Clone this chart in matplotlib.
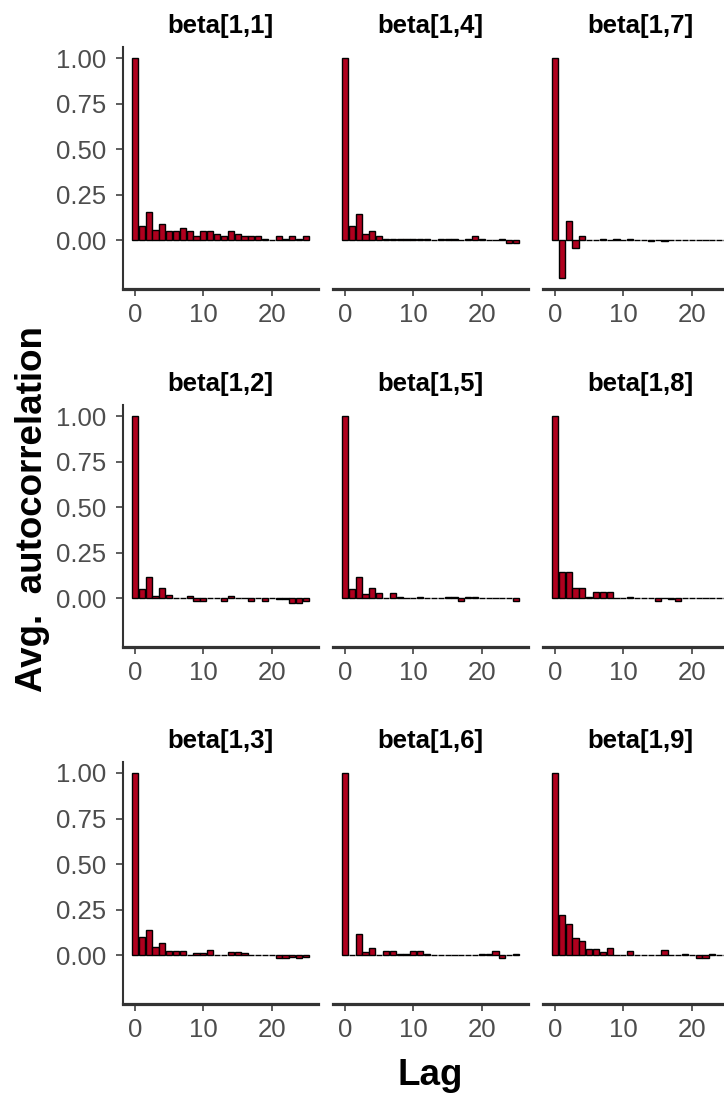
import numpy as np
import matplotlib
matplotlib.use("Agg")
import matplotlib.pyplot as plt

plt.rcParams['font.family'] = ['Liberation Sans', 'DejaVu Sans']

# Average autocorrelation by lag for each parameter
lags = np.arange(26)
acf = {
    "beta[1,1]": [1.0, 0.077, 0.155, 0.058, 0.09, 0.05, 0.05, 0.066, 0.05, 0.022, 0.05, 0.05, 0.036,
                  0.022, 0.05, 0.036, 0.022, 0.022, 0.022, 0.008, 0.0, 0.022, 0.008, 0.025, 0.008, 0.025],
    "beta[1,2]": [1.0, 0.052, 0.12, 0.015, 0.057, 0.018, 0.005, 0.0, 0.012, -0.012, -0.012, 0.0, 0.0,
                  -0.012, 0.012, 0.0, 0.0, -0.012, 0.0, -0.012, 0.0, -0.005, -0.005, -0.025, -0.025, -0.012],
    "beta[1,3]": [1.0, 0.10, 0.139, 0.046, 0.066, 0.024, 0.024, 0.024, 0.002, 0.015, 0.015, 0.027, 0.002,
                  0.002, 0.018, 0.018, 0.014, 0.002, 0.0, 0.003, 0.002, -0.012, -0.012, -0.01, -0.012, -0.01],
    "beta[1,4]": [1.0, 0.077, 0.144, 0.036, 0.053, 0.025, 0.008, 0.008, 0.008, 0.008, 0.008, 0.008, 0.008,
                  0.003, 0.006, 0.006, 0.006, 0.0, 0.006, 0.022, 0.008, 0.003, 0.0, 0.01, -0.015, -0.015],
    "beta[1,5]": [1.0, 0.052, 0.12, 0.024, 0.057, 0.028, 0.004, 0.028, 0.01, 0.002, 0.002, 0.01, 0.002,
                  0.002, 0.002, 0.01, 0.01, -0.012, 0.01, 0.01, 0.002, 0.002, 0.001, 0.001, 0.002, -0.012],
    "beta[1,6]": [1.0, 0.0, 0.12, 0.018, 0.038, 0.005, 0.024, 0.024, 0.008, 0.008, 0.024, 0.024, 0.01,
                  0.005, 0.005, 0.003, 0.0, 0.003, 0.0, 0.004, 0.008, 0.006, 0.024, -0.012, 0.004, 0.008],
    "beta[1,7]": [1.0, -0.206, 0.104, -0.042, 0.026, 0.002, 0.004, 0.006, 0.004, 0.006, 0.004, 0.006, 0.004,
                  0.002, -0.003, 0.003, -0.003, 0.004, 0.005, 0.004, 0.002, 0.005, 0.003, 0.0, 0.004, 0.003],
    "beta[1,8]": [1.0, 0.147, 0.147, 0.057, 0.057, 0.01, 0.033, 0.033, 0.033, 0.001, 0.001, 0.008, 0.005,
                  0.0, 0.003, -0.014, 0.001, -0.002, -0.014, 0.0, 0.001, 0.001, 0.0, 0.0, 0.001, 0.0],
    "beta[1,9]": [1.0, 0.223, 0.17, 0.093, 0.078, 0.033, 0.033, 0.018, 0.04, 0.005, 0.005, 0.025, 0.003,
                  0.003, 0.003, 0.003, 0.027, 0.0, 0.0, 0.01, 0.0, -0.015, -0.015, 0.01, 0.002, 0.005],
}
names = list(acf.keys())
xticks = [0, 10, 20]
yticks = [0.0, 0.25, 0.5, 0.75, 1.0]

fill = "#B0001E"
tick_col = "#4D4D4D"
line_col = "#333333"

W, H = 724, 1093
fig = plt.figure(figsize=(W / 100, H / 100), dpi=100)

# shared scales with 5% padding like ggplot
bw = 0.9
allv = np.concatenate([acf[n] for n in names])
ymin, ymax = allv.min(), allv.max()
ypad = 0.05 * (ymax - ymin)
xlo, xhi = -bw / 2, lags[-1] + bw / 2
xpad = 0.05 * (xhi - xlo)

lefts = [123, 333, 543]
tops = [47, 405, 762]
pw, ph = 195, 242

for i, name in enumerate(names):
    col, row = i // 3, i % 3
    ax = fig.add_axes([lefts[col] / W, 1 - (tops[row] + ph) / H, pw / W, ph / H])
    ax.bar(lags, acf[name], width=bw, color=fill, edgecolor="black", linewidth=1.0)
    ax.set_xlim(xlo - xpad, xhi + xpad)
    ax.set_ylim(ymin - ypad, ymax + ypad)
    ax.set_xticks(xticks)
    ax.set_yticks(yticks)
    ax.set_yticklabels(["%.2f" % v for v in yticks])
    for s in ["top", "right"]:
        ax.spines[s].set_visible(False)
    ax.spines["bottom"].set_linewidth(2.3)
    ax.spines["bottom"].set_color(line_col)
    ax.spines["left"].set_linewidth(1.5)
    ax.spines["left"].set_color(line_col)
    ax.tick_params(axis="both", length=5, width=1.1, color=line_col,
                   labelsize=18.5, labelcolor=tick_col, pad=5)
    ax.tick_params(axis="y", pad=7)
    if col > 0:
        ax.spines["left"].set_visible(False)
        ax.tick_params(axis="y", left=False, labelleft=False)
    ax.text(0.5, 1 + 21 / ph, name, transform=ax.transAxes, ha="center", va="center",
            fontsize=18.5, fontweight="bold")

fig.text(33 / W, 1 - 509 / H, "Avg.  autocorrelation", rotation=90, ha="center", va="center",
         fontsize=26.5, fontweight="bold")
fig.text(430 / W, 1 - 1085 / H, "Lag", ha="center", va="baseline",
         fontsize=26.5, fontweight="bold")

fig.savefig("out.png", dpi=100)
